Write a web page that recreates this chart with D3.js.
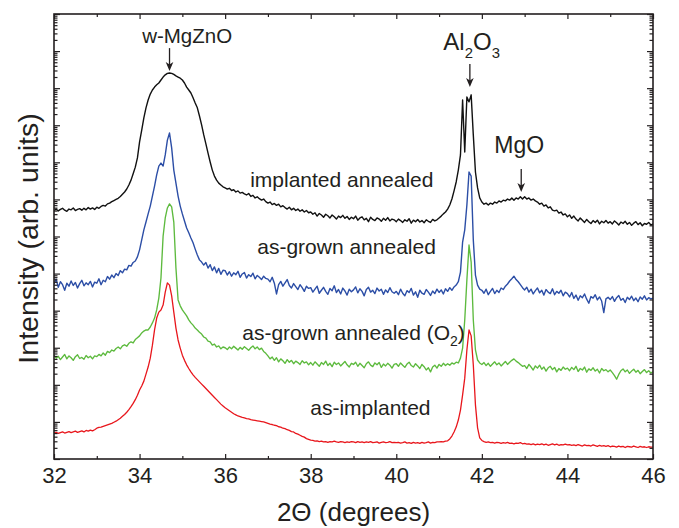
<!DOCTYPE html>
<html>
<head>
<meta charset="utf-8">
<script src="https://cdn.jsdelivr.net/npm/d3@7"></script>
<style>
  html, body { margin: 0; padding: 0; background: #fff; }
  svg { display: block; }
  text { font-family: "Liberation Sans", Arial, Helvetica, sans-serif; fill: #231f20; }
</style>
</head>
<body>
<svg id="chart" width="679" height="528"></svg>
<script>
// XRD scans, 2θ from 32° to 46° in 0.05° steps; intensities stored as log10(counts)
const scanStart = 32, scanEnd = 46, scanStep = 0.05;
const twoTheta = d3.range(0, Math.round((scanEnd - scanStart) / scanStep) + 1).map(i => +(scanStart + i * scanStep).toFixed(2));

// implanted annealed
const implantedAnnealed = [
  6.70, 6.74, 6.69, 6.73, 6.76, 6.71, 6.68, 6.74, 6.72, 6.77, 6.70, 6.73, 6.75, 6.71, 6.76, 6.72, 6.78, 6.74, 6.77, 6.73,
  6.79, 6.76, 6.81, 6.84, 6.82, 6.88, 6.90, 6.94, 6.97, 7.00, 7.03, 7.08, 7.14, 7.20, 7.28, 7.39, 7.52, 7.69, 7.87, 8.12,
  8.55, 8.87, 9.20, 9.47, 9.68, 9.84, 9.95, 10.03, 10.09, 10.14, 10.22, 10.30, 10.36, 10.40, 10.41, 10.40, 10.37, 10.33, 10.30, 10.27,
  10.22, 10.14, 10.03, 9.95, 9.87, 9.74, 9.60, 9.47, 9.25, 9.01, 8.74, 8.50, 8.25, 8.01, 7.79, 7.63, 7.52, 7.44, 7.39, 7.34,
  7.31, 7.28, 7.30, 7.24, 7.26, 7.20, 7.23, 7.17, 7.19, 7.15, 7.12, 7.16, 7.08, 7.11, 7.04, 7.07, 7.02, 6.98, 7.01, 6.94,
  6.90, 6.93, 6.86, 6.89, 6.84, 6.87, 6.80, 6.83, 6.78, 6.74, 6.79, 6.72, 6.76, 6.70, 6.74, 6.68, 6.72, 6.66, 6.70, 6.64,
  6.66, 6.60, 6.64, 6.55, 6.62, 6.58, 6.52, 6.60, 6.56, 6.50, 6.58, 6.53, 6.47, 6.55, 6.51, 6.57, 6.49, 6.54, 6.46, 6.52,
  6.48, 6.55, 6.44, 6.50, 6.53, 6.45, 6.49, 6.40, 6.52, 6.46, 6.43, 6.50, 6.47, 6.41, 6.49, 6.44, 6.51, 6.42, 6.47, 6.45,
  6.40, 6.47, 6.43, 6.38, 6.45, 6.41, 6.48, 6.36, 6.44, 6.40, 6.46, 6.39, 6.43, 6.37, 6.45, 6.41, 6.38, 6.46, 6.42, 6.45,
  6.50, 6.55, 6.61, 6.66, 6.74, 6.85, 7.01, 7.23, 7.47, 7.79, 8.20, 9.68, 8.28, 9.76, 9.63, 9.82, 8.74, 7.74, 7.31, 7.04,
  6.93, 6.87, 6.90, 6.85, 6.90, 6.87, 6.93, 6.90, 6.96, 6.93, 6.98, 6.96, 7.01, 6.98, 7.04, 6.98, 7.04, 7.01, 7.07, 7.01,
  7.07, 7.01, 7.04, 6.98, 7.01, 6.96, 6.93, 6.87, 6.90, 6.82, 6.85, 6.77, 6.80, 6.71, 6.69, 6.71, 6.63, 6.66, 6.58, 6.61,
  6.53, 6.58, 6.49, 6.55, 6.47, 6.42, 6.50, 6.44, 6.38, 6.46, 6.40, 6.35, 6.43, 6.38, 6.44, 6.34, 6.41, 6.37, 6.43, 6.36,
  6.40, 6.34, 6.42, 6.37, 6.31, 6.39, 6.35, 6.41, 6.33, 6.38, 6.30, 6.36, 6.40, 6.32, 6.37, 6.29, 6.35, 6.33, 6.38, 6.31,
  6.34
];

// as-grown annealed
const asGrownAnnealed = [
  4.72, 4.85, 4.63, 4.78, 4.70, 4.55, 4.74, 4.66, 4.80, 4.68, 4.76, 4.61, 4.73, 4.82, 4.67, 4.75, 4.70, 4.79, 4.64, 4.77,
  4.74, 4.86, 4.70, 4.82, 4.78, 4.92, 4.85, 4.96, 4.89, 5.00, 4.95, 5.08, 5.02, 5.12, 5.10, 5.22, 5.20, 5.30, 5.34, 5.45,
  5.64, 5.91, 6.18, 6.39, 6.61, 6.82, 7.09, 7.36, 7.66, 7.90, 7.98, 7.90, 8.20, 8.60, 8.79, 8.39, 7.79, 7.44, 7.09, 6.82,
  6.61, 6.42, 6.23, 6.10, 5.96, 5.83, 5.66, 5.50, 5.37, 5.31, 5.23, 5.30, 5.15, 5.24, 5.08, 5.18, 5.02, 5.14, 4.98, 5.09,
  5.08, 4.96, 5.05, 4.93, 5.02, 4.97, 5.06, 4.90, 4.99, 5.03, 4.88, 4.97, 4.92, 5.01, 4.86, 4.95, 4.90, 4.84, 4.93, 4.87,
  4.85, 4.78, 4.90, 4.74, 4.45, 4.70, 4.79, 4.66, 4.75, 4.84, 4.68, 4.61, 4.73, 4.65, 4.57, 4.70, 4.62, 4.52, 4.66, 4.60,
  4.62, 4.50, 4.58, 4.66, 4.47, 4.55, 4.63, 4.52, 4.44, 4.60, 4.54, 4.67, 4.49, 4.57, 4.45, 4.61, 4.53, 4.42, 4.58, 4.51,
  4.56, 4.64, 4.48, 4.59, 4.52, 4.40, 4.57, 4.63, 4.50, 4.55, 4.46, 4.61, 4.53, 4.58, 4.44, 4.56, 4.49, 4.62, 4.51, 4.47,
  4.52, 4.43, 4.58, 4.47, 4.40, 4.54, 4.49, 4.60, 4.42, 4.51, 4.36, 4.55, 4.47, 4.44, 4.57, 4.50, 4.41, 4.53, 4.46, 4.58,
  4.49, 4.56, 4.45, 4.59, 4.52, 4.62, 4.55, 4.64, 4.69, 4.78, 5.04, 5.85, 6.18, 6.85, 7.74, 7.63, 5.91, 4.96, 4.69, 4.58,
  4.55, 4.47, 4.58, 4.43, 4.52, 4.60, 4.46, 4.55, 4.49, 4.61, 4.57, 4.66, 4.72, 4.80, 4.86, 4.93, 4.84, 4.78, 4.70, 4.62,
  4.56, 4.63, 4.50, 4.58, 4.45, 4.54, 4.61, 4.48, 4.55, 4.42, 4.57, 4.50, 4.46, 4.59, 4.43, 4.52, 4.47, 4.55, 4.40, 4.50,
  4.46, 4.37, 4.49, 4.33, 4.42, 4.28, 4.40, 4.35, 4.45, 4.31, 4.20, 4.38, 4.34, 4.43, 4.29, 4.37, 4.26, 3.95, 4.32, 4.36,
  4.30, 4.38, 4.25, 4.35, 4.41, 4.28, 4.33, 4.22, 4.36, 4.30, 4.39, 4.27, 4.34, 4.24, 4.37, 4.31, 4.40, 4.29, 4.35, 4.32,
  4.34
];

// as-grown annealed in O2
const asGrownAnnealedO2 = [
  2.80, 2.72, 2.77, 2.68, 2.75, 2.82, 2.70, 2.78, 2.73, 2.66, 2.76, 2.81, 2.71, 2.74, 2.69, 2.79, 2.73, 2.77, 2.70, 2.78,
  2.76, 2.82, 2.78, 2.86, 2.80, 2.90, 2.87, 2.94, 2.91, 2.98, 3.02, 2.97, 3.05, 3.08, 3.04, 3.12, 3.16, 3.13, 3.22, 3.27,
  3.32, 3.40, 3.45, 3.48, 3.48, 3.56, 3.67, 3.80, 4.02, 4.34, 4.88, 6.01, 6.50, 6.77, 6.88, 6.80, 6.39, 5.15, 4.29, 4.13,
  4.02, 3.94, 3.86, 3.75, 3.67, 3.61, 3.53, 3.48, 3.42, 3.37, 3.29, 3.26, 3.18, 3.16, 3.07, 3.10, 3.02, 3.05, 2.97, 3.02,
  3.00, 2.95, 3.02, 2.97, 3.04, 2.99, 2.94, 3.01, 2.96, 3.03, 2.98, 2.93, 3.00, 3.05, 2.97, 3.02, 2.95, 2.99, 2.90, 2.85,
  2.78, 2.70, 2.75, 2.66, 2.73, 2.62, 2.70, 2.65, 2.58, 2.68, 2.61, 2.66, 2.57, 2.64, 2.60, 2.55, 2.65, 2.59, 2.62, 2.54,
  2.60, 2.53, 2.62, 2.56, 2.50, 2.60, 2.55, 2.64, 2.52, 2.58, 2.49, 2.61, 2.55, 2.59, 2.51, 2.57, 2.63, 2.54, 2.48, 2.58,
  2.55, 2.61, 2.50, 2.58, 2.52, 2.46, 2.57, 2.62, 2.53, 2.49, 2.59, 2.54, 2.60, 2.47, 2.56, 2.51, 2.58, 2.53, 2.45, 2.55,
  2.57, 2.50, 2.59, 2.53, 2.47, 2.56, 2.61, 2.52, 2.48, 2.57, 2.51, 2.44, 2.55, 2.49, 2.40, 2.46, 2.35, 2.48, 2.53, 2.45,
  2.55, 2.50, 2.58, 2.52, 2.57, 2.53, 2.59, 2.56, 2.61, 2.59, 2.72, 2.99, 3.75, 4.83, 5.77, 5.31, 3.75, 2.94, 2.67, 2.59,
  2.55, 2.60, 2.52, 2.58, 2.50, 2.56, 2.62, 2.54, 2.59, 2.51, 2.57, 2.63, 2.55, 2.61, 2.66, 2.70, 2.64, 2.60, 2.55, 2.50,
  2.52, 2.44, 2.55, 2.48, 2.40, 2.51, 2.45, 2.53, 2.42, 2.48, 2.37, 2.46, 2.50, 2.41, 2.47, 2.35, 2.44, 2.39, 2.48, 2.42,
  2.45, 2.38, 2.47, 2.41, 2.50, 2.36, 2.44, 2.40, 2.48, 2.34, 2.43, 2.39, 2.46, 2.37, 2.42, 2.32, 2.44, 2.38, 2.41, 2.35,
  2.40, 2.33, 2.25, 2.15, 2.28, 2.38, 2.43, 2.35, 2.40, 2.31, 2.37, 2.42, 2.34, 2.39, 2.30, 2.36, 2.41, 2.33, 2.38, 2.32,
  2.35
];

// as-implanted
const asImplanted = [
  0.70, 0.72, 0.69, 0.71, 0.73, 0.70, 0.72, 0.74, 0.71, 0.73, 0.75, 0.72, 0.74, 0.76, 0.73, 0.77, 0.75, 0.78, 0.76, 0.79,
  0.83, 0.85, 0.86, 0.88, 0.90, 0.92, 0.94, 0.96, 0.99, 1.02, 1.06, 1.10, 1.15, 1.20, 1.26, 1.33, 1.41, 1.50, 1.60, 1.72,
  1.86, 1.97, 2.10, 2.29, 2.48, 2.72, 3.07, 3.48, 3.80, 3.96, 4.02, 4.15, 4.50, 4.75, 4.69, 4.40, 3.96, 3.53, 3.21, 2.99,
  2.80, 2.66, 2.54, 2.44, 2.35, 2.27, 2.20, 2.14, 2.08, 2.02, 1.96, 1.90, 1.84, 1.78, 1.72, 1.66, 1.60, 1.54, 1.48, 1.43,
  1.38, 1.34, 1.30, 1.26, 1.22, 1.19, 1.16, 1.14, 1.12, 1.11, 1.09, 1.08, 1.06, 1.05, 1.04, 1.03, 1.02, 1.01, 1.00, 0.98,
  0.96, 0.94, 0.93, 0.91, 0.90, 0.87, 0.86, 0.83, 0.82, 0.79, 0.77, 0.74, 0.73, 0.69, 0.67, 0.64, 0.61, 0.59, 0.55, 0.53,
  0.51, 0.50, 0.48, 0.49, 0.47, 0.48, 0.46, 0.47, 0.45, 0.47, 0.46, 0.48, 0.46, 0.45, 0.47, 0.46, 0.44, 0.46, 0.45, 0.47,
  0.46, 0.44, 0.47, 0.45, 0.46, 0.44, 0.46, 0.45, 0.47, 0.44, 0.45, 0.46, 0.43, 0.45, 0.46, 0.44, 0.45, 0.47, 0.44, 0.45,
  0.44, 0.45, 0.43, 0.44, 0.46, 0.43, 0.44, 0.42, 0.45, 0.43, 0.44, 0.42, 0.45, 0.43, 0.44, 0.46, 0.43, 0.45, 0.44, 0.46,
  0.46, 0.47, 0.46, 0.48, 0.49, 0.54, 0.62, 0.73, 0.86, 1.05, 1.32, 1.73, 2.18, 2.94, 3.48, 3.32, 2.54, 1.46, 0.84, 0.57,
  0.50, 0.47, 0.45, 0.46, 0.44, 0.45, 0.43, 0.45, 0.44, 0.42, 0.44, 0.43, 0.45, 0.42, 0.43, 0.41, 0.43, 0.42, 0.44, 0.41,
  0.42, 0.40, 0.41, 0.39, 0.41, 0.38, 0.40, 0.39, 0.41, 0.38, 0.40, 0.37, 0.39, 0.41, 0.38, 0.40, 0.37, 0.39, 0.38, 0.40,
  0.38, 0.39, 0.37, 0.38, 0.36, 0.39, 0.37, 0.35, 0.38, 0.36, 0.37, 0.35, 0.38, 0.36, 0.34, 0.37, 0.35, 0.36, 0.34, 0.36,
  0.33, 0.35, 0.34, 0.32, 0.35, 0.33, 0.34, 0.31, 0.34, 0.33, 0.32, 0.35, 0.33, 0.31, 0.34, 0.32, 0.33, 0.31, 0.33, 0.32,
  0.32
];

const seriesNames = ["implanted annealed", "as-grown annealed", "as-grown annealed (O2)", "as-implanted"];
const seriesColors = ["#111111", "#2c4ea6", "#5dba3e", "#e8161c"];
const seriesWidths = [1.4, 1.4, 1.35, 1.3];
const seriesValues = [implantedAnnealed, asGrownAnnealed, asGrownAnnealedO2, asImplanted];

// curve labels: [text, subscript, 2θ position, log10 baseline]
const curveLabels = [
  ["implanted annealed", null, 36.585, 7.335],
  ["as-grown annealed", null, 36.75, 5.53],
  ["as-grown annealed (O", "2", 36.40, 3.21],
  ["as-implanted", null, 37.99, 1.19]
];

// phase markers: arrow at 2θ, arrow tip (log10), label anchor 2θ, label baseline (log10)
const phaseMarks = [
  { parts: [["w-MgZnO", false]], x: 34.70, tip: 10.46, lx: 34.06, ly: 11.22, size: 20.5 },
  { parts: [["Al", false], ["2", true], ["O", false], ["3", true]], x: 41.72, tip: 10.03, lx: 41.10, ly: 11.03, size: 24 },
  { parts: [["MgO", false]], x: 42.92, tip: 7.20, lx: 42.29, ly: 8.25, size: 23 }
];

const xMajorTicks = [32, 34, 36, 38, 40, 42, 44, 46];
const xMinorTicks = [33, 35, 37, 39, 41, 43, 45];
const yDecades = 12;

const W = 679, H = 528;
const m = { left: 54, top: 14, right: 26, bottom: 69 };
const iw = W - m.left - m.right, ih = H - m.top - m.bottom;

const svg = d3.select("#chart");
const g = svg.append("g").attr("transform", `translate(${m.left},${m.top})`);

const x = d3.scaleLinear().domain([scanStart, scanEnd]).range([0, iw]);
const y = d3.scaleLog().domain([1, Math.pow(10, yDecades)]).range([ih, 0]);
const yl = v => y(Math.pow(10, v));

// log tick values: 1..9 × 10^k
const yMajor = d3.range(0, yDecades + 1).map(k => Math.pow(10, k));
const yMinor = [];
for (let k = 0; k < yDecades; k++) for (let j = 2; j <= 9; j++) yMinor.push(j * Math.pow(10, k));

g.append("defs").append("clipPath").attr("id", "plotClip")
  .append("rect").attr("width", iw).attr("height", ih);

// traces
const line = d3.line().x((d, i) => x(twoTheta[i])).y(d => yl(d));
const traces = g.append("g").attr("clip-path", "url(#plotClip)");
seriesValues.forEach((vals, k) => {
  traces.append("path")
    .datum(vals)
    .attr("fill", "none")
    .attr("stroke", seriesColors[k])
    .attr("stroke-width", seriesWidths[k])
    .attr("stroke-linejoin", "round")
    .attr("d", line);
});

// axes with inward ticks
function styleAxis(sel) {
  sel.select(".domain").remove();
  sel.selectAll("line").attr("stroke", "#231f20").attr("stroke-width", 1.2);
}
const axisFont = 22;
g.append("g").attr("transform", `translate(0,${ih})`)
  .call(d3.axisBottom(x).tickValues(xMajorTicks).tickSizeInner(-5).tickSizeOuter(0).tickFormat(d3.format("d")))
  .call(styleAxis)
  .call(s => s.selectAll("text").attr("y", 24).attr("dy", 0).attr("font-size", axisFont).attr("fill", "#231f20"));
g.append("g").attr("transform", `translate(0,${ih})`)
  .call(d3.axisBottom(x).tickValues(xMinorTicks).tickSizeInner(-3).tickSizeOuter(0).tickFormat(""))
  .call(styleAxis);
g.append("g")
  .call(d3.axisTop(x).tickValues(xMajorTicks).tickSizeInner(-5).tickSizeOuter(0).tickFormat(""))
  .call(styleAxis);
g.append("g")
  .call(d3.axisTop(x).tickValues(xMinorTicks).tickSizeInner(-3).tickSizeOuter(0).tickFormat(""))
  .call(styleAxis);

[[d3.axisLeft, 0], [d3.axisRight, iw]].forEach(([ax, pos]) => {
  g.append("g").attr("transform", `translate(${pos},0)`)
    .call(ax(y).tickValues(yMajor).tickSizeInner(-6).tickSizeOuter(0).tickFormat(""))
    .call(styleAxis);
  g.append("g").attr("transform", `translate(${pos},0)`)
    .call(ax(y).tickValues(yMinor).tickSizeInner(-3.5).tickSizeOuter(0).tickFormat(""))
    .call(styleAxis);
});

// frame
g.append("rect").attr("width", iw).attr("height", ih)
  .attr("fill", "none").attr("stroke", "#231f20").attr("stroke-width", 1.6);

// curve labels
curveLabels.forEach(([txt, sub, lx, ly]) => {
  const t = g.append("text").attr("x", x(lx)).attr("y", yl(ly)).attr("font-size", 21);
  t.append("tspan").text(txt);
  if (sub) {
    t.append("tspan").text(sub).attr("font-size", 14).attr("dy", 6);
    t.append("tspan").text(")").attr("dy", -6);
  }
});

// phase markers with arrows
phaseMarks.forEach(pm => {
  const t = g.append("text").attr("x", x(pm.lx)).attr("y", yl(pm.ly)).attr("font-size", pm.size);
  let shifted = false;
  pm.parts.forEach(([s, isSub]) => {
    const sp = t.append("tspan").text(s);
    if (isSub && !shifted) { sp.attr("font-size", pm.size * 0.62).attr("dy", 8); shifted = true; }
    else if (!isSub && shifted) { sp.attr("dy", -8); shifted = false; }
    else if (isSub) sp.attr("font-size", pm.size * 0.62);
  });
  const ax = x(pm.x), ay = yl(pm.tip);
  g.append("line").attr("x1", ax).attr("x2", ax).attr("y1", ay - 23).attr("y2", ay - 4)
    .attr("stroke", "#231f20").attr("stroke-width", 1.3);
  g.append("path")
    .attr("d", `M${ax - 3.8},${ay - 9} L${ax},${ay} L${ax + 3.8},${ay - 9} L${ax},${ay - 6.5} Z`)
    .attr("fill", "#231f20");
});

// axis titles
svg.append("text")
  .attr("transform", `translate(38,${m.top + ih / 2 + 2}) rotate(-90)`)
  .attr("text-anchor", "middle").attr("font-size", 28.5)
  .text("Intensity (arb. units)");
svg.append("text")
  .attr("x", m.left + iw / 2).attr("y", 521)
  .attr("text-anchor", "middle").attr("font-size", 26)
  .text("2Θ (degrees)");
</script>
</body>
</html>
